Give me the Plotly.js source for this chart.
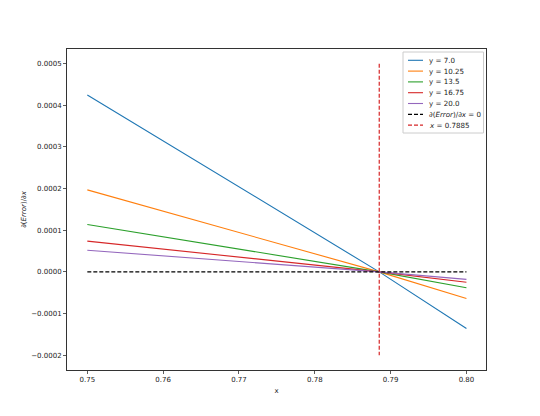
<!DOCTYPE html>
<html>
<head>
<meta charset="utf-8">
<script src="https://cdn.plot.ly/plotly-3.0.1.min.js"></script>
<style>html,body{margin:0;padding:0;background:#fff;}#chart{width:540px;height:416px;}</style>
</head>
<body>
<div id="chart"></div>
<script>
// Data
const xPoints = [0.75, 0.7885, 0.80];
const seriesNames = ["y = 7.0", "y = 10.25", "y = 13.5", "y = 16.75", "y = 20.0"];
const y_7_0   = [0.000425, 0.0, -0.000136];
const y_10_25 = [0.000197, 0.0, -0.000064];
const y_13_5  = [0.000114, 0.0, -0.000038];
const y_16_75 = [0.000074, 0.0, -0.000025];
const y_20_0  = [0.000052, 0.0, -0.000018];
const zeroLineX = [0.75, 0.80];
const zeroLineY = [0, 0];
const critX = 0.7885;
const critLineY = [0.0005, -0.0002];
const zeroLabel = "∂(<i>Error</i>)/∂<i>x</i> = 0";
const critLabel = "<i>x</i> = 0.7885";
const colors = ["#1f77b4", "#ff7f0e", "#2ca02c", "#d62728", "#9467bd"];

const DASH = "4px,2px";
const seriesValues = [y_7_0, y_10_25, y_13_5, y_16_75, y_20_0];
const traces = seriesValues.map((vals, i) => ({
  x: xPoints, y: vals, mode: "lines", name: seriesNames[i],
  line: {color: colors[i], width: 1.1}
}));
traces.push({
  x: zeroLineX, y: zeroLineY, mode: "lines", name: zeroLabel,
  line: {color: "#000000", width: 1.2, dash: DASH}
});
traces.push({
  x: [critX, critX], y: critLineY, mode: "lines", name: critLabel,
  line: {color: "#d62728", width: 1.2, dash: DASH}
});

// Custom compact legend (matplotlib-like), positioned in paper coordinates
const W = 540, H = 416, mL = 67, mR = 54, mT = 49, mB = 46;
const pw = W - mL - mR, ph = H - mT - mB;
const px2x = p => (p - mL) / pw;
const px2y = p => (H - mB - p) / ph;
const legendEntries = traces.map(t => ({name: t.name, color: t.line.color, dash: t.line.dash || "solid", width: t.line.width}));
const shapes = [{
  type: "rect", xref: "paper", yref: "paper",
  x0: px2x(403), x1: px2x(483.5), y0: px2y(133), y1: px2y(52),
  line: {color: "#cccccc", width: 1}, fillcolor: "rgba(255,255,255,0.8)", layer: "above"
}];
const annotations = [];
legendEntries.forEach((e, i) => {
  const yc = 60.3 + i * 10.8;
  shapes.push({
    type: "line", xref: "paper", yref: "paper",
    x0: px2x(408), x1: px2x(423), y0: px2y(yc), y1: px2y(yc),
    line: {color: e.color, width: e.width, dash: e.dash}, layer: "above"
  });
  annotations.push({
    xref: "paper", yref: "paper", x: px2x(427), y: px2y(yc),
    xanchor: "left", yanchor: "middle", showarrow: false, text: e.name,
    font: {family: "DejaVu Sans", size: 7.1, color: "#222"}
  });
});

const axisCommon = {
  showgrid: false, zeroline: false, showline: true, mirror: true,
  linecolor: "#333", linewidth: 1, ticks: "outside", ticklen: 3, tickwidth: 0.8,
  tickcolor: "#333", tickfont: {family: "DejaVu Sans", size: 7, color: "#222"}
};

const layout = {
  width: W, height: H,
  margin: {l: mL, r: mR, t: mT, b: mB},
  paper_bgcolor: "#fff", plot_bgcolor: "#fff",
  showlegend: false,
  font: {family: "DejaVu Sans", size: 7, color: "#222"},
  xaxis: Object.assign({}, axisCommon, {
    range: [0.74732, 0.80258],
    tickvals: [0.75, 0.76, 0.77, 0.78, 0.79, 0.80],
    ticktext: ["0.75", "0.76", "0.77", "0.78", "0.79", "0.80"],
    title: {text: "x", font: {family: "DejaVu Sans", size: 7, color: "#222"}, standoff: 4}
  }),
  yaxis: Object.assign({}, axisCommon, {
    range: [-0.0002356, 0.0005353],
    tickvals: [-0.0002, -0.0001, 0, 0.0001, 0.0002, 0.0003, 0.0004, 0.0005],
    ticktext: ["−0.0002", "−0.0001", "0.0000", "0.0001", "0.0002", "0.0003", "0.0004", "0.0005"],
    title: {text: "∂(<i>Error</i>)/∂<i>x</i>", font: {family: "DejaVu Sans", size: 7, color: "#222"}, standoff: 3}
  }),
  shapes: shapes,
  annotations: annotations
};

Plotly.newPlot("chart", traces, layout, {displayModeBar: false, staticPlot: true});
</script>
</body>
</html>
